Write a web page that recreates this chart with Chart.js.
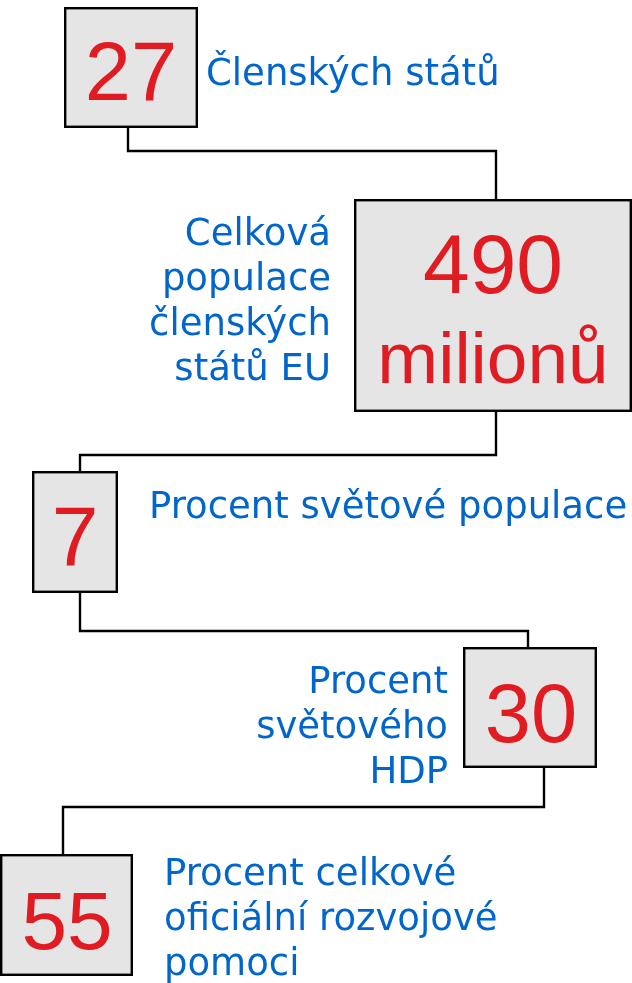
<!DOCTYPE html>
<html>
<head>
<meta charset="utf-8">
<script src="https://cdn.jsdelivr.net/npm/chart.js@4.4.1/dist/chart.umd.min.js"></script>
<style>
  html, body { margin: 0; padding: 0; background: #ffffff; }
  #infoChart { display: block; }
</style>
</head>
<body>
<canvas id="infoChart" width="632" height="983"></canvas>
<script>
// EU in numbers
const values = [27, 490, 7, 30, 55];
const units = ["", "milionů", "", "", ""];
const captions = [
  ["Členských států"],
  ["Celková", "populace", "členských", "států EU"],
  ["Procent světové populace"],
  ["Procent", "světového", "HDP"],
  ["Procent celkové", "oficiální rozvojové", "pomoci"],
];

// layout, in canvas pixels (x right, y down)
const boxes = [
  { x0: 64, x1: 198, y0: 7, y1: 128 },
  { x0: 354, x1: 632, y0: 199, y1: 412 },
  { x0: 32, x1: 118, y0: 471, y1: 593 },
  { x0: 463, x1: 597, y0: 647, y1: 768 },
  { x0: 0, x1: 133, y0: 854, y1: 976 },
];
const numPos = [
  { cx: 131, base: 100, size: 83 },
  { cx: 493, base: 293, size: 84, unitBase: 383, unitSize: 73 },
  { cx: 75, base: 565, size: 84 },
  { cx: 531, base: 742, size: 83 },
  { cx: 67, base: 949, size: 82 },
];
const capPos = [
  { x: 206, align: "left", base: 85 },
  { x: 331, align: "right", base: 245 },
  { x: 149, align: "left", base: 518 },
  { x: 448, align: "right", base: 693 },
  { x: 164, align: "left", base: 885 },
];
// elbow connectors between box i and box i+1
const links = [
  { xOut: 128, yMid: 151, xIn: 496 },
  { xOut: 496, yMid: 455, xIn: 80 },
  { xOut: 80, yMid: 631, xIn: 528 },
  { xOut: 544, yMid: 807, xIn: 63 },
];

const RED = "#e01b22";
const BLUE = "#0066cc";
const FILL = "#e5e5e5";
const LINE_H = 45;

const connectorSets = links.map((l, i) => ({
  data: [
    { x: l.xOut, y: boxes[i].y1 },
    { x: l.xOut, y: l.yMid },
    { x: l.xIn, y: l.yMid },
    { x: l.xIn, y: boxes[i + 1].y0 },
  ],
  showLine: true,
  borderColor: "#000000",
  borderWidth: 2.4,
  pointRadius: 0,
  tension: 0,
}));

// boxes + texts drawn on top of the connectors
const infoBoxes = {
  id: "infoBoxes",
  afterDatasetsDraw(chart) {
    const { ctx, scales: { x, y } } = chart;
    ctx.save();
    boxes.forEach((b, i) => {
      const px0 = x.getPixelForValue(b.x0), px1 = x.getPixelForValue(b.x1);
      const py0 = y.getPixelForValue(b.y0), py1 = y.getPixelForValue(b.y1);
      ctx.fillStyle = FILL;
      ctx.fillRect(px0, py0, px1 - px0, py1 - py0);
      ctx.strokeStyle = "#000000";
      ctx.lineWidth = 2.4;
      ctx.strokeRect(px0 + 1.2, py0 + 1.2, px1 - px0 - 2.4, py1 - py0 - 2.4);

      // big red number
      const n = numPos[i];
      ctx.fillStyle = RED;
      ctx.textAlign = "center";
      ctx.textBaseline = "alphabetic";
      ctx.font = n.size + "px 'Liberation Sans', Arial, sans-serif";
      ctx.fillText(String(values[i]), x.getPixelForValue(n.cx), y.getPixelForValue(n.base));
      if (units[i]) {
        ctx.font = n.unitSize + "px 'Liberation Sans', Arial, sans-serif";
        ctx.fillText(units[i], x.getPixelForValue(n.cx), y.getPixelForValue(n.unitBase));
      }

      // blue caption
      const c = capPos[i];
      ctx.fillStyle = BLUE;
      ctx.textAlign = c.align;
      ctx.font = "37px 'DejaVu Sans', Verdana, sans-serif";
      captions[i].forEach((line, k) => {
        ctx.fillText(line, x.getPixelForValue(c.x), y.getPixelForValue(c.base + k * LINE_H));
      });
    });
    ctx.restore();
  },
};

new Chart(document.getElementById("infoChart"), {
  type: "scatter",
  data: { datasets: connectorSets },
  options: {
    responsive: false,
    animation: false,
    layout: { padding: 0 },
    scales: {
      x: { type: "linear", min: 0, max: 632, display: false },
      y: { type: "linear", min: 0, max: 983, reverse: true, display: false },
    },
    plugins: {
      legend: { display: false },
      tooltip: { enabled: false },
    },
  },
  plugins: [infoBoxes],
});
</script>
</body>
</html>
